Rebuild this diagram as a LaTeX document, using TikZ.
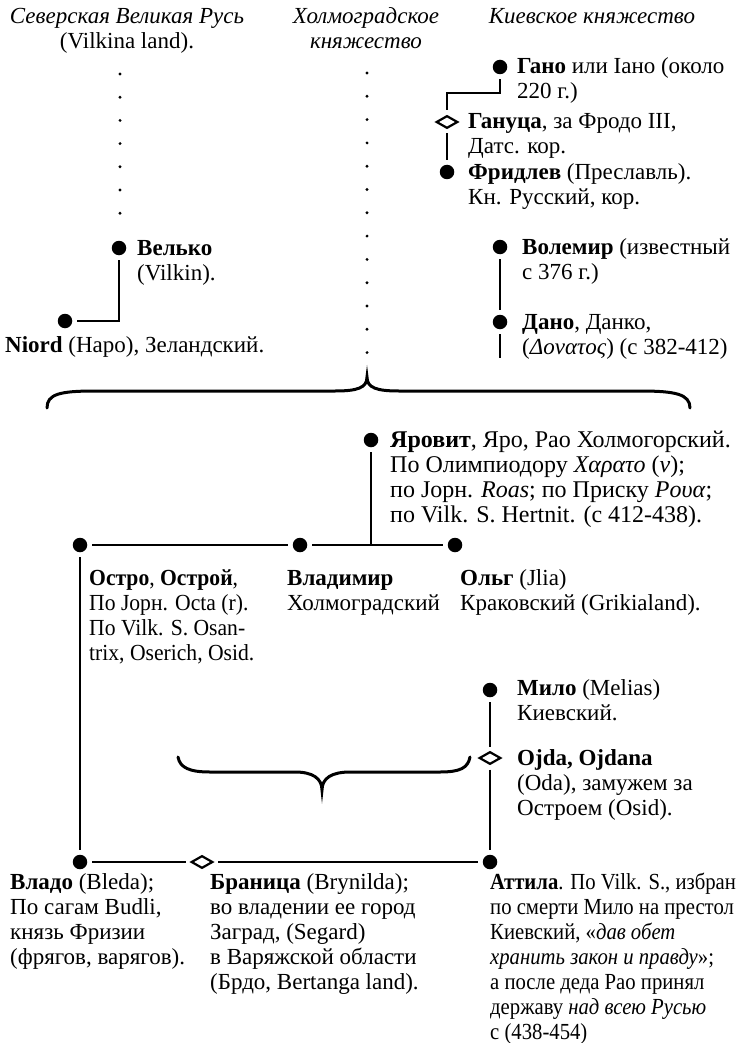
\documentclass[tikz,border=0pt]{standalone}
\usepackage{fontspec}
\setmainfont{Liberation Serif}
\newfontfamily\cnA[FakeStretch=0.94]{Liberation Serif}
\newfontfamily\cnB[FakeStretch=0.9]{Liberation Serif}
\usetikzlibrary{shapes.geometric}
\newcommand\blk[1]{\begin{tabular}[t]{@{}l@{}}#1\end{tabular}}
\newcommand\cblk[1]{\begin{tabular}[t]{@{}c@{}}#1\end{tabular}}
\begin{document}
\begin{tikzpicture}[x=1pt,y=-1pt,
  every node/.style={font=\fontsize{23}{25}\selectfont},
  txt/.style={anchor=base west,inner sep=0pt},
  hdr/.style={anchor=base,inner sep=0pt},
  dot/.style={circle,fill=black,inner sep=0pt,minimum size=14.5pt,outer sep=5pt},
  mar/.style={diamond,draw=black,line width=2.2pt,inner sep=0pt,minimum width=24pt,minimum height=15pt,outer sep=4pt},
  ln/.style={line width=2.3pt},
  brace/.style={line width=3pt,line cap=round}]
\useasboundingbox (0,0) rectangle (739,1043);
\fill[white] (0,0) rectangle (739,1043);

% headers
\node[hdr] (h1) at (127,24) {\cblk{\textit{Северская Великая Русь}\\(Vilkina land).}};
\node[hdr] (h2) at (366,24) {\cblk{\textit{Холмоградское}\\\textit{княжество}}};
\node[hdr] (h3) at (592,24) {\textit{Киевское княжество}};

% dotted columns
\foreach \i in {0,...,6} \fill (120,{74+23.2*\i}) circle (1.6);
\foreach \i in {0,...,12} \fill (367,{73+23.3*\i}) circle (1.6);

% Kiev upper
\node[dot] (gano) at (500,67) {};
\node[txt] (ganoT) at (517,74) {\blk{\textbf{Гано} или Iано (около\\220 г.)}};
\node[mar] (ganuca) at (447,122) {};
\node[txt] (ganucaT) at (468,129) {\blk{\textbf{Гануца}, за Фродо III,\\Датс. кор.}};
\node[dot] (fridlev) at (447,172) {};
\node[txt] (fridlevT) at (468,179) {\blk{\textbf{Фридлев} (Преславль).\\Кн. Русский, кор.}};
\node[dot] (volemir) at (500,247) {};
\node[txt] (volemirT) at (522,254) {\blk{\textbf{Волемир} (известный\\с 376 г.)}};
\node[dot] (dano) at (500,322) {};
\node[txt] (danoT) at (522,329) {\blk{\textbf{Дано}, Данко,\\(\textit{Δονατος}) (с 382-412)}};
\coordinate (danoend) at (500,358);
\coordinate (gbend) at (0,93);

% left upper
\node[dot] (velko) at (119,248) {};
\node[txt] (velkoT) at (137,255) {\blk{\textbf{Велько}\\(Vilkin).}};
\node[dot] (niord) at (65,321) {};
\node[txt] (niordT) at (5,352) {\textbf{Niord} (Наро), Зеландский.};

% braces
\draw[brace] (47,408) .. controls (47,394) and (60,391) .. (95,391) -- (335,391)
  .. controls (357,391) and (367,388) .. (367,377)
  .. controls (367,388) and (377,391) .. (399,391) -- (640,391)
  .. controls (675,391) and (690,394) .. (690,408);
\draw[brace] (178,757) .. controls (180,768) and (190,772) .. (210,772) -- (295,772)
  .. controls (312,772) and (322,778) .. (322,790)
  .. controls (322,778) and (332,772) .. (350,772) -- (440,772)
  .. controls (460,772) and (468,768) .. (470,757);

% middle
\node[dot] (yarovit) at (371,440) {};
\node[txt,font=\fontsize{24}{25}\selectfont] (yarovitT) at (390,447) {\blk{\textbf{Яровит}, Яро, Рао Холмогорский.\\По Олимпиодору \textit{Χαρατο} (\textit{ν});\\по Jорн. \textit{Roas}; по Приску \textit{Ρουα};\\по Vilk. S. Hertnit. (с 412-438).}};
\node[dot] (ostro) at (80,545) {};
\node[dot] (vlad) at (300,545) {};
\node[dot] (olg) at (455,545) {};
\node[txt,font=\fontsize{23}{25}\selectfont\cnA] (ostroT) at (89,585) {\blk{\textbf{Остро}, \textbf{Острой},\\По Jорн. Octa (r).\\По Vilk. S. Osan-\\trix, Oserich, Osid.}};
\node[txt] (vladT) at (287,585) {\blk{\textbf{Владимир}\\Холмоградский}};
\node[txt] (olgT) at (460,585) {\blk{\textbf{Ольг} (Jlia)\\Краковский (Grikialand).}};

\node[dot] (milo) at (490,690) {};
\node[txt] (miloT) at (517,695) {\blk{\textbf{Мило} (Melias)\\Киевский.}};
\node[mar] (ojda) at (490,758) {};
\node[txt] (ojdaT) at (517,765) {\blk{\textbf{Ojda, Ojdana}\\(Oda), замужем за\\Остроем (Osid).}};

% bottom
\node[dot] (vlado) at (80,862) {};
\node[mar] (brd) at (202,862) {};
\node[dot] (attila) at (490,862) {};
\node[txt] (vladoT) at (10,889) {\blk{\textbf{Владо} (Bleda);\\По сагам Budli,\\князь Фризии\\(фрягов, варягов).}};
\node[txt] (brdT) at (210,889) {\blk{\textbf{Браница} (Brynilda);\\во владении ее город\\Заград, (Segard)\\в Варяжской области\\(Брдо, Bertanga land).}};
\node[txt,font=\fontsize{23}{25}\selectfont\cnB] (attilaT) at (490,889) {\blk{\textbf{Аттила}. По Vilk. S., избран\\по смерти Мило на престол\\Киевский, «\textit{дав обет}\\\textit{хранить закон и правду}»;\\а после деда Рао принял\\державу \textit{над всею Русью}\\с (438-454)}};

% connectors
\draw[ln] (gano.south) -- (gano.south |- gbend) -| (ganuca.north);
\draw[ln] (ganuca.south) -- (fridlev.north);
\draw[ln] (volemir.south) -- (dano.north);
\draw[ln] (dano.south) -- (danoend);
\draw[ln] (velko.south) |- (niord.east);
\draw[ln] (yarovit.south) -- (yarovit.south |- vlad);
\draw[ln] (ostro.east) -- (vlad.west);
\draw[ln] (vlad.east) -- (olg.west);
\draw[ln] (ostro.south) -- (vlado.north);
\draw[ln] (milo.south) -- (ojda.north);
\draw[ln] (ojda.south) -- (attila.north);
\draw[ln] (vlado.east) -- (brd.west);
\draw[ln] (brd.east) -- (attila.west);
\end{tikzpicture}
\end{document}
